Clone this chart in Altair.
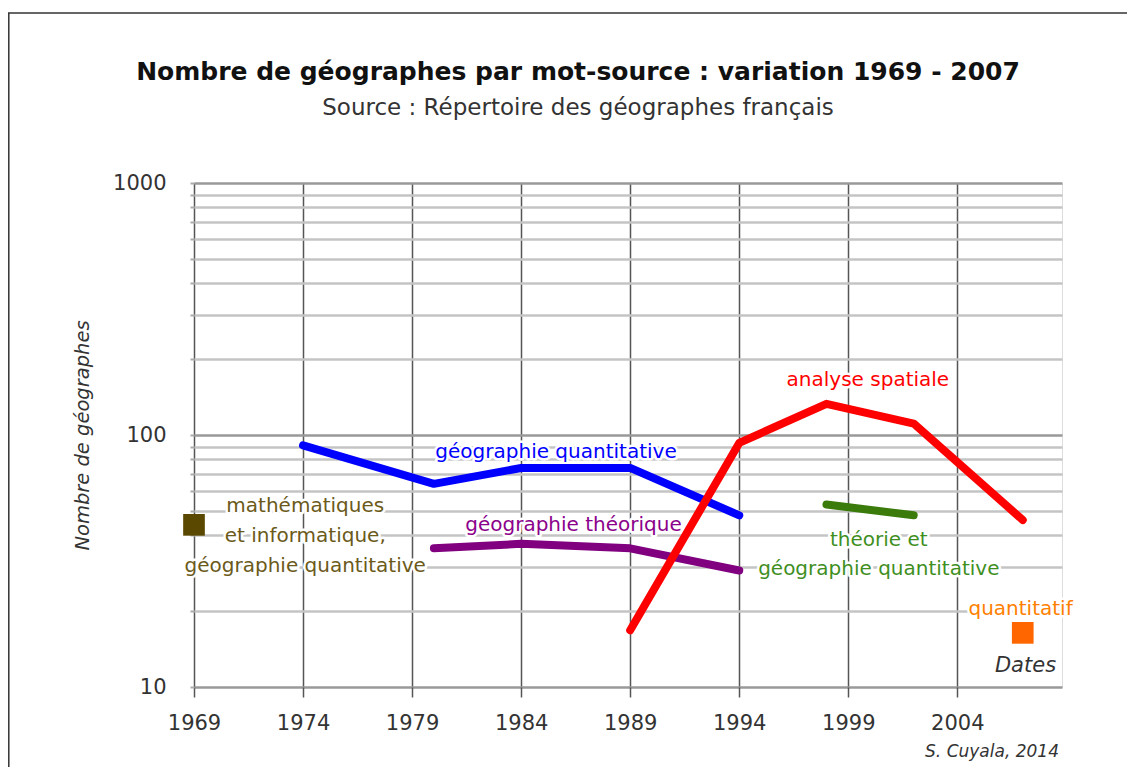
import altair as alt
import pandas as pd

FONT = "DejaVu Sans"

# --- data -------------------------------------------------------------
quant_years = [1974, 1980, 1984, 1989, 1994]
quant_vals = [91, 64, 74, 74, 48]

theo_years = [1980, 1984, 1989, 1994]
theo_vals = [35.5, 37, 35.5, 29]

spat_years = [1989, 1994, 1998, 2002, 2007]
spat_vals = [16.8, 93, 133, 111, 46]

tgq_years = [1998, 2002]
tgq_vals = [53, 48]

square_years = [1969, 2007]
square_vals = [44, 16.4]
square_colors = ["#5b4800", "#ff6600"]

x_ticks = [1969, 1974, 1979, 1984, 1989, 1994, 1999, 2004]
y_grid = [10, 20, 30, 40, 50, 60, 70, 80, 90,
          100, 200, 300, 400, 500, 600, 700, 800, 900, 1000]

label_texts = ["géographie quantitative", "géographie théorique", "analyse spatiale",
               "théorie et", "géographie quantitative", "quantitatif",
               "mathématiques", "et informatique,", "géographie quantitative"]
label_years = [1985.6, 1986.4, 1999.9, 2000.4, 2000.4, 2006.9, 1974.1, 1974.1, 1974.1]
label_vals = [86, 44, 165, 38.3, 29.4, 20.4, 52.3, 39.7, 30.2]
label_colors = ["#0000ff", "#8b008b", "#ff0000", "#3f8f1f", "#3f8f1f", "#ff7f00",
                "#6b5a1a", "#6b5a1a", "#6b5a1a"]

title_text = "Nombre de géographes par mot-source : variation 1969 - 2007"
subtitle_text = "Source : Répertoire des géographes français"
credit_text = "S. Cuyala, 2014"

series = [
    ("géographie quantitative", quant_years, quant_vals, "#0000ff"),
    ("géographie théorique", theo_years, theo_vals, "#800080"),
    ("analyse spatiale", spat_years, spat_vals, "#ff0000"),
    ("théorie et géographie quantitative", tgq_years, tgq_vals, "#3a7b0c"),
]

rows = []
for name, ys, vs, col in series:
    for y, v in zip(ys, vs):
        rows.append({"series": name, "year": y, "value": v, "color": col})
df_lines = pd.DataFrame(rows)
df_sq = pd.DataFrame({"year": square_years, "value": square_vals, "color": square_colors})
df_lab = pd.DataFrame({"text": label_texts, "year": label_years, "value": label_vals,
                       "color": label_colors})
one = pd.DataFrame({"a": [0]})

# --- encodings ---------------------------------------------------------
X = alt.X(
    "year:Q",
    scale=alt.Scale(domain=[1969, 2008.8], nice=False, zero=False),
    axis=alt.Axis(
        values=x_ticks, format="d", title="Dates",
        titleX=831, titleY=-22, titleAlign="center", titleBaseline="middle",
        titleFontStyle="italic", titleFontWeight="normal", titleFont=FONT,
        titleFontSize=21, titleColor="#333333",
        labelFont=FONT, labelFontSize=21, labelColor="#333333", labelPadding=15,
        labelFlush=False, labelOverlap=False,
        tickSize=10, tickColor="#555555", tickWidth=1.5,
        grid=True, gridColor="#555555", gridWidth=1.5, domain=False,
    ),
)
Y = alt.Y(
    "value:Q",
    scale=alt.Scale(type="log", domain=[10, 1000], nice=False),
    axis=alt.Axis(
        values=y_grid,
        labelExpr="(datum.value == 10 || datum.value == 100 || datum.value == 1000) ? format(datum.value, 'd') : ''",
        title="Nombre de géographes", titleFont=FONT, titleFontSize=19.5,
        titleFontStyle="italic", titleFontWeight="normal", titleColor="#333333",
        titlePadding=20,
        labelFont=FONT, labelFontSize=21, labelColor="#333333", labelPadding=24,
        labelOverlap=False,
        tickSize=4, tickColor="#aaaaaa", tickWidth=2,
        grid=True,
        gridColor={"condition": {"test": "datum.value == 10 || datum.value == 100 || datum.value == 1000",
                                 "value": "#999999"}, "value": "#c4c4c4"},
        gridWidth=2.5, domain=False,
    ),
)

halo = alt.Chart(df_lab).mark_text(
    font=FONT, fontSize=20, stroke="white", strokeWidth=5, strokeJoin="round",
    fill="white", align="center", baseline="middle"
).encode(x=X, y=Y, text="text:N")

lines = alt.Chart(df_lines).mark_line(
    strokeWidth=8, strokeCap="round", strokeJoin="round"
).encode(x=X, y=Y, color=alt.Color("color:N", scale=None), detail="series:N")

squares = alt.Chart(df_sq).mark_square(size=470, opacity=1, filled=True).encode(
    x=X, y=Y, color=alt.Color("color:N", scale=None)
)

texts = alt.Chart(df_lab).mark_text(
    font=FONT, fontSize=20, align="center", baseline="middle"
).encode(x=X, y=Y, text="text:N", color=alt.Color("color:N", scale=None))

title = alt.Chart(one).mark_text(
    text=title_text, font=FONT, fontSize=25, fontWeight="bold", color="#111111",
    align="center", baseline="middle"
).encode(x=alt.value(384), y=alt.value(-111))

subtitle = alt.Chart(one).mark_text(
    text=subtitle_text, font=FONT, fontSize=23, color="#333333",
    align="center", baseline="middle"
).encode(x=alt.value(384), y=alt.value(-75))

credit = alt.Chart(one).mark_text(
    text=credit_text, font=FONT, fontSize=17, fontStyle="italic",
    color="#333333", align="right", baseline="middle"
).encode(x=alt.value(865), y=alt.value(569))

border_top = alt.Chart(one).mark_rule(color="#333333", strokeWidth=1.5).encode(
    x=alt.value(-186), x2=alt.value(960), y=alt.value(-170)
)
border_left = alt.Chart(one).mark_rule(color="#333333", strokeWidth=1.5).encode(
    x=alt.value(-185.2), y=alt.value(-170), y2=alt.value(700)
)

chart = alt.layer(
    halo, lines, squares, texts, title, subtitle, credit, border_top, border_left
).properties(
    width=868, height=504,
    autosize=alt.AutoSizeParams(type="none"),
    padding={"left": 186, "top": 175, "right": 65, "bottom": 80},
).configure_view(stroke=None).configure(background="white")

chart.save("out.html", embed_options={"renderer": "svg", "actions": False})
